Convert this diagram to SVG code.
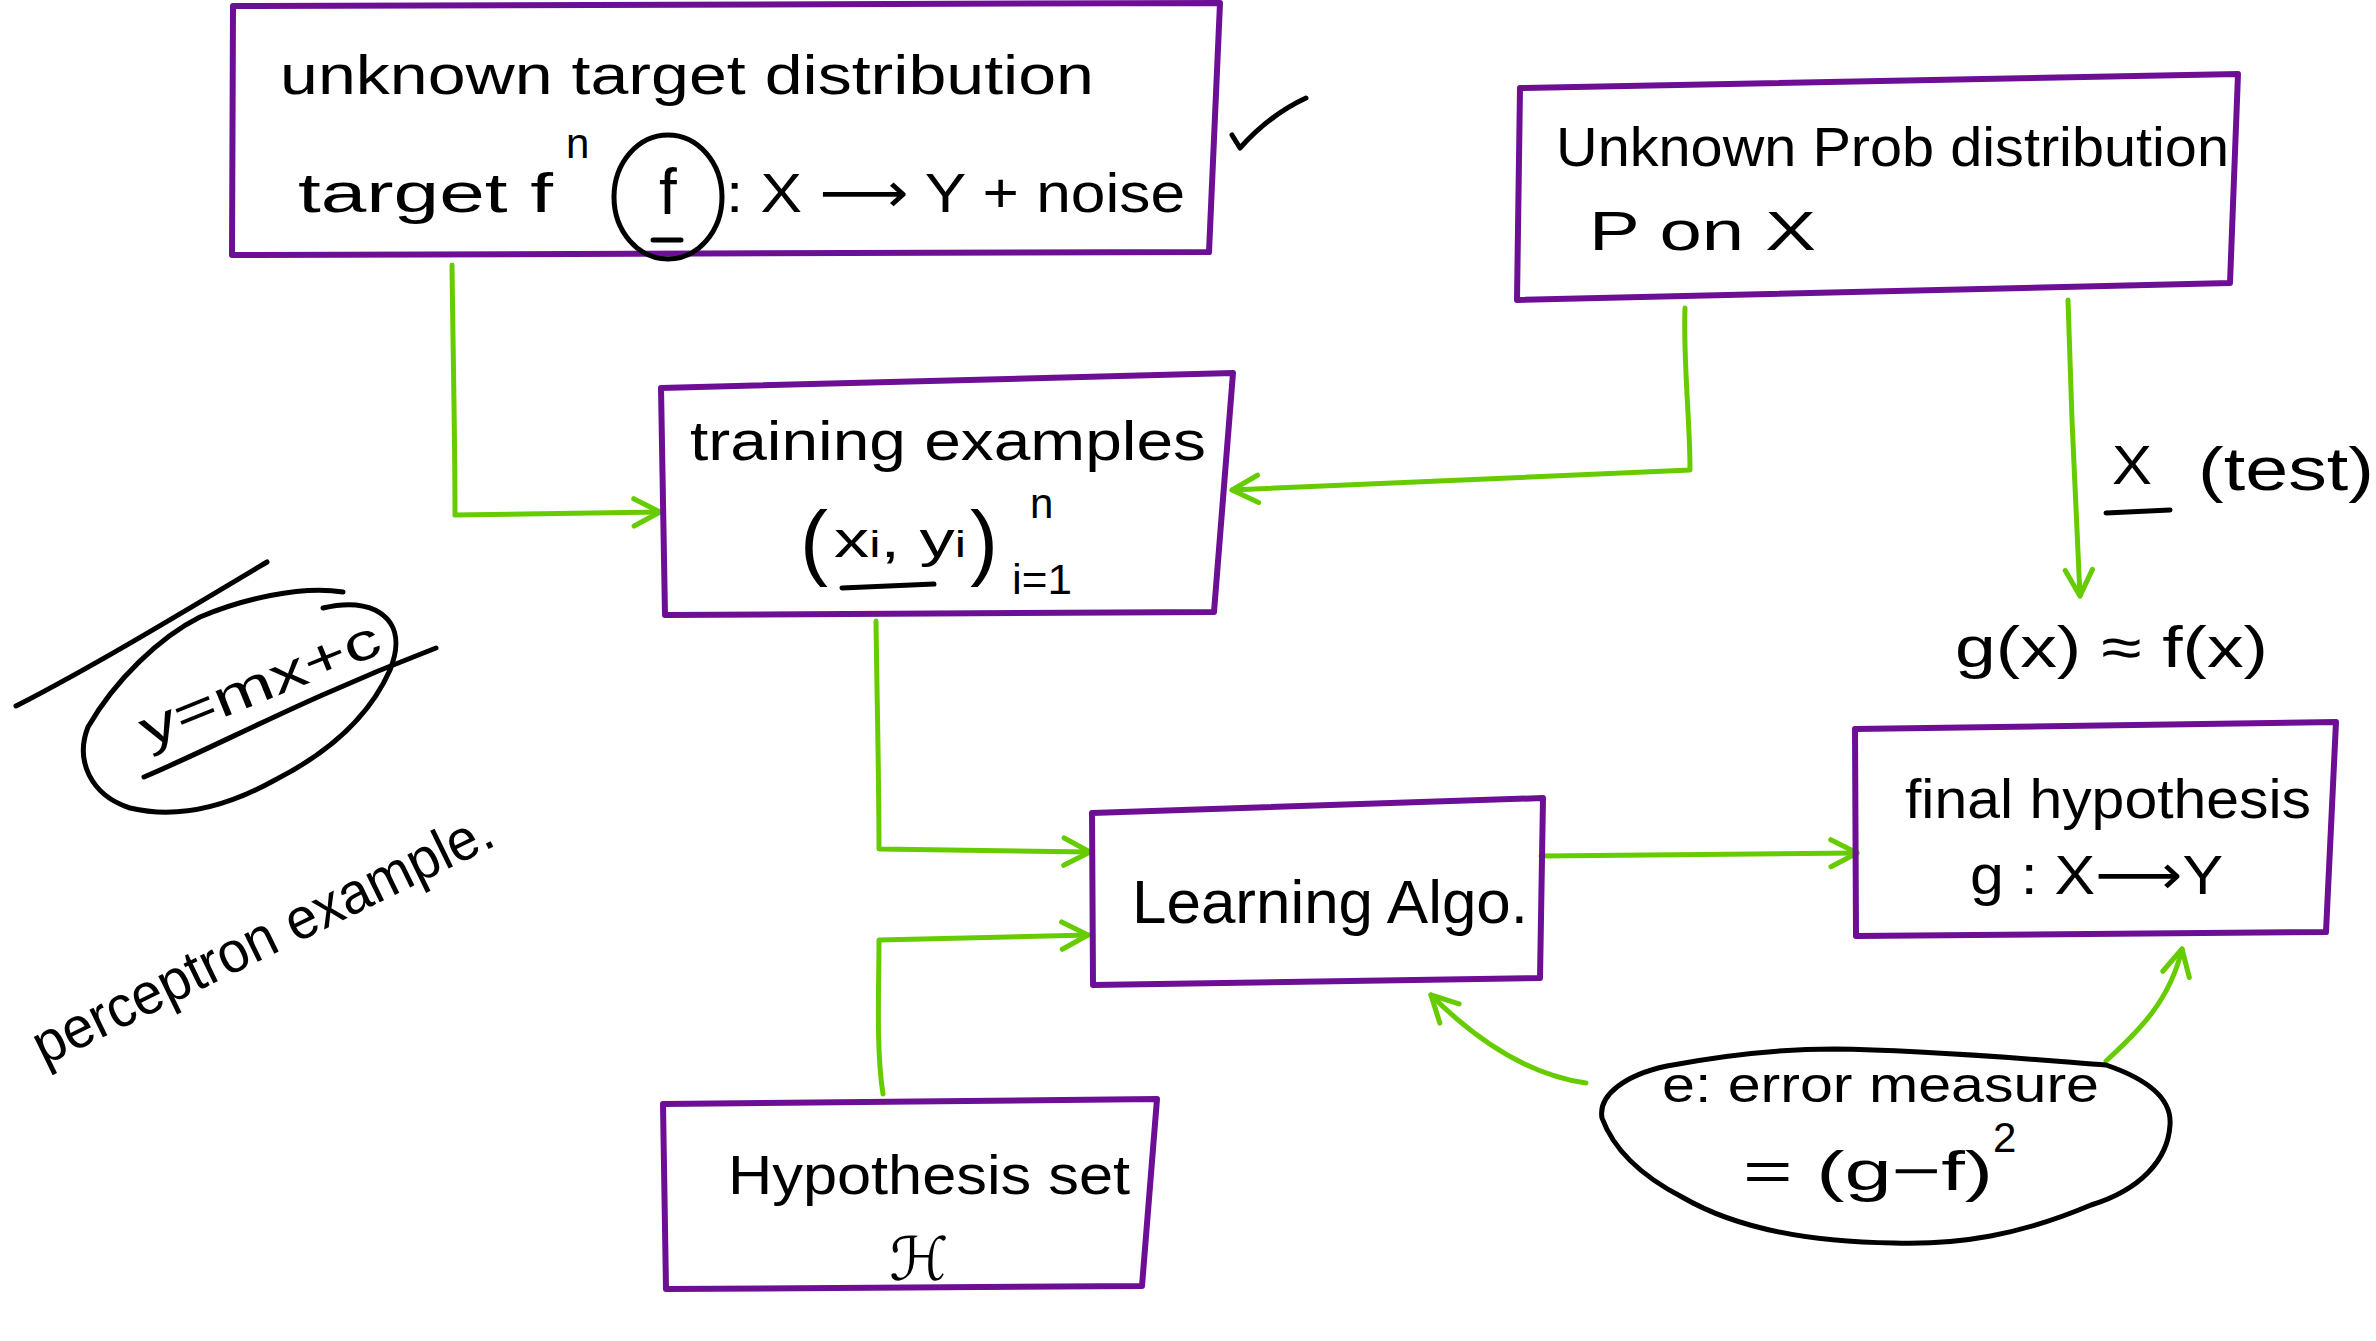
<svg xmlns="http://www.w3.org/2000/svg" width="2376" height="1341" viewBox="0 0 2376 1341">
  <style>
    .box { fill: none; stroke: #6c0f95; stroke-width: 6; stroke-linejoin: round; stroke-linecap: round; }
    .ink { fill: none; stroke: #000; stroke-width: 5; stroke-linecap: round; stroke-linejoin: round; }
    .wire { fill: none; stroke: #66cc00; stroke-width: 5; stroke-linecap: round; stroke-linejoin: round; }
    text { font-family: "Liberation Sans", "DejaVu Sans", sans-serif; fill: #000; }
    .t { font-size: 56px; }
    .m { font-size: 50px; }
    .s { font-size: 42px; }
  </style>
  <defs>
    <marker id="ah" viewBox="0 0 30 30" refX="27" refY="15" markerWidth="34" markerHeight="34" orient="auto" markerUnits="userSpaceOnUse">
      <path d="M4,3 L27,15 L4,27" fill="none" stroke="#66cc00" stroke-width="4.5" stroke-linecap="round" stroke-linejoin="round"/>
    </marker>
  </defs>
  <rect width="2376" height="1341" fill="#fff"/>

  <!-- connectors -->
  <g id="connectors">
    <path class="wire" d="M452,265 C453,350 455,440 455,515 L660,512" marker-end="url(#ah)"/>
    <path class="wire" d="M1685,308 C1683,360 1690,420 1690,470 L1232,490" marker-end="url(#ah)"/>
    <path class="wire" d="M2068,300 L2072,420 L2080,596" marker-end="url(#ah)"/>
    <path class="wire" d="M876,621 C877,700 879,780 879,849 L1090,852" marker-end="url(#ah)"/>
    <path class="wire" d="M883,1094 C876,1050 879,990 879,940 L1088,935" marker-end="url(#ah)"/>
    <path class="wire" d="M1541,856 L1857,853" marker-end="url(#ah)"/>
    <path class="wire" d="M1586,1083 C1530,1075 1478,1042 1431,995" marker-end="url(#ah)"/>
    <path class="wire" d="M2106,1061 C2140,1030 2170,1000 2182,949" marker-end="url(#ah)"/>
  </g>

  <!-- unknown target distribution -->
  <g id="target">
    <path class="box" d="M233,6 L1220,3 L1209,252 L232,255 Z"/>
    <text class="t" x="280" y="94" textLength="814" lengthAdjust="spacingAndGlyphs">unknown  target distribution</text>
    <text class="t" x="298" y="212" textLength="255" lengthAdjust="spacingAndGlyphs">target f</text>
    <text class="s" x="566" y="158">n</text>
    <ellipse class="ink" cx="668" cy="197" rx="54" ry="62"/>
    <text x="668" y="214" font-size="64" text-anchor="middle">f</text>
    <path class="ink" d="M653,240 L681,240"/>
    <text class="t" x="726" y="212" textLength="459" lengthAdjust="spacingAndGlyphs">: X ⟶ Y + noise</text>
  </g>

  <!-- tick mark -->
  <path class="ink" d="M1232,135 L1240,148 C1258,128 1280,110 1306,98"/>

  <!-- unknown probability distribution -->
  <g id="prob">
    <path class="box" d="M1520,88 L2238,74 L2230,283 L1517,300 Z"/>
    <text class="t" x="1556" y="166" textLength="673" lengthAdjust="spacingAndGlyphs">Unknown  Prob distribution</text>
    <text class="t" x="1589" y="250" textLength="227" lengthAdjust="spacingAndGlyphs">P on  X</text>
  </g>

  <!-- training examples -->
  <g id="training">
    <path class="box" d="M661,388 L1233,373 L1214,612 L665,615 Z"/>
    <text class="t" x="690" y="460" textLength="516" lengthAdjust="spacingAndGlyphs">training examples</text>
    <text x="800" y="570" font-size="84">(</text>
    <text class="m" x="834" y="557" textLength="132" lengthAdjust="spacingAndGlyphs">x<tspan font-size="36">i</tspan>, y<tspan font-size="36">i</tspan></text>
    <text x="970" y="570" font-size="84">)</text>
    <path class="ink" d="M842,588 L934,584"/>
    <text class="s" x="1030" y="518">n</text>
    <text class="s" x="1012" y="594" textLength="60" lengthAdjust="spacingAndGlyphs">i=1</text>
  </g>

  <!-- learning algorithm -->
  <g id="learning">
    <path class="box" d="M1092,813 L1543,798 L1540,978 L1093,985 Z"/>
    <text x="1132" y="923" font-size="62" textLength="396" lengthAdjust="spacingAndGlyphs">Learning Algo.</text>
  </g>

  <!-- final hypothesis -->
  <g id="final">
    <path class="box" d="M1855,729 L2336,722 L2326,932 L1856,936 Z"/>
    <text class="t" x="1905" y="818" textLength="406" lengthAdjust="spacingAndGlyphs">final  hypothesis</text>
    <text class="t" x="1970" y="894" textLength="253" lengthAdjust="spacingAndGlyphs">g : X⟶Y</text>
  </g>

  <!-- hypothesis set -->
  <g id="hypset">
    <path class="box" d="M663,1104 L1157,1099 L1142,1286 L666,1289 Z"/>
    <text class="t" x="728" y="1194" textLength="402" lengthAdjust="spacingAndGlyphs">Hypothesis set</text>
    <text x="919" y="1280" font-size="60" text-anchor="middle" font-family="DejaVu Sans, sans-serif">ℋ</text>
  </g>

  <!-- error measure -->
  <g id="error">
    <path class="ink" d="M1834,1049 C1930,1050 2040,1060 2106,1065 C2150,1080 2172,1100 2170,1125 C2168,1160 2140,1190 2091,1205 C2020,1235 1960,1245 1894,1243 C1800,1242 1730,1225 1682,1197 C1630,1170 1610,1140 1602,1118 C1598,1095 1625,1075 1667,1066 C1730,1054 1790,1049 1834,1049 Z"/>
    <text class="m" x="1662" y="1102" textLength="437" lengthAdjust="spacingAndGlyphs">e: error measure</text>
    <text class="t" x="1743" y="1190" textLength="250" lengthAdjust="spacingAndGlyphs">= (g−f)</text>
    <text class="s" x="1993" y="1152">2</text>
  </g>

  <!-- side notes -->
  <text class="t" x="2112" y="484" textLength="40" lengthAdjust="spacingAndGlyphs">X</text>
  <path class="ink" d="M2106,513 L2170,510"/>
  <text x="2198" y="490" font-size="62" textLength="176" lengthAdjust="spacingAndGlyphs">(test)</text>
  <text x="1955" y="667" font-size="58" textLength="313" lengthAdjust="spacingAndGlyphs">g(x) ≈ f(x)</text>

  <!-- perceptron example -->
  <path class="ink" d="M16,706 C90,668 170,620 267,562"/>
  <path class="ink" d="M343,592 C300,585 240,600 200,617 C160,637 115,680 88,727 C75,760 90,795 130,808 C180,820 230,805 275,780 C330,752 370,715 390,670 C402,640 395,620 375,610 C360,603 340,604 323,608"/>
  <text x="148" y="748" font-size="52" textLength="255" lengthAdjust="spacingAndGlyphs" transform="rotate(-22 148 748)">y=mx+c</text>
  <path class="ink" d="M144,777 C220,745 300,700 436,648"/>
  <text x="44" y="1066" font-size="58" textLength="505" lengthAdjust="spacingAndGlyphs" transform="rotate(-26 44 1066)">perceptron example.</text>
</svg>
